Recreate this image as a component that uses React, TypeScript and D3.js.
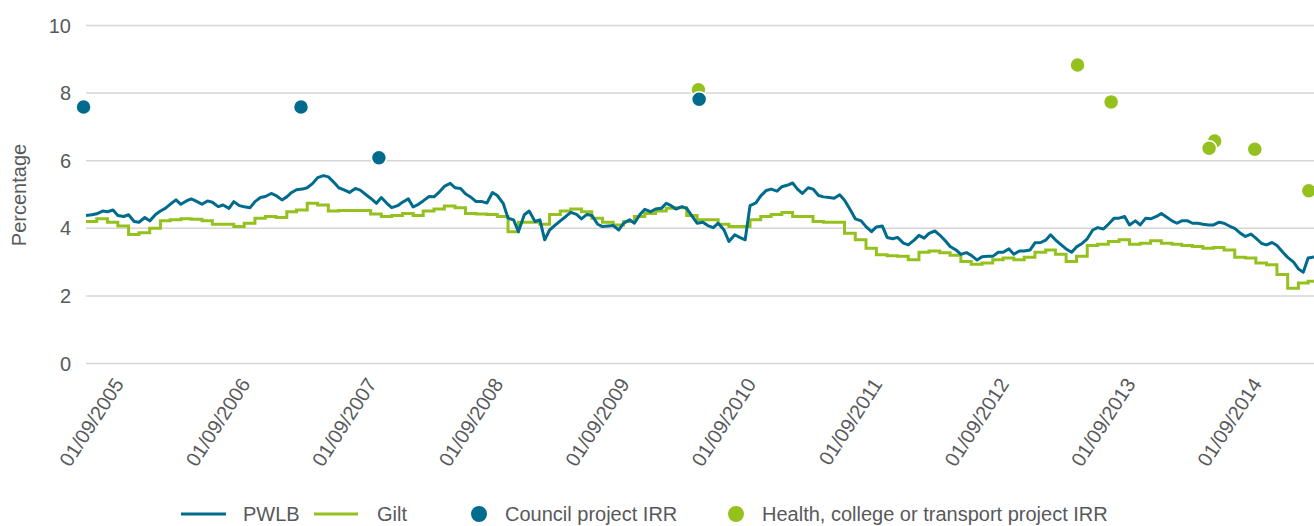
import React from 'react';
import * as d3 from 'd3';

// PWLB, semi-monthly readings (1st and 15th of each month), starting 15 Jul 2005
const pwlb2005 = [4.38, 4.40, 4.43, 4.51, 4.49, 4.54, 4.38, 4.35, 4.40, 4.20, 4.18];
const pwlb2006 = [4.32, 4.22, 4.41, 4.51, 4.59, 4.71, 4.84, 4.71, 4.81, 4.87, 4.79, 4.71, 4.81, 4.77, 4.64, 4.69, 4.59, 4.79, 4.67, 4.64, 4.61, 4.79, 4.91, 4.94];
const pwlb2007 = [5.03, 4.97, 4.84, 4.93, 5.06, 5.14, 5.16, 5.20, 5.33, 5.50, 5.56, 5.52, 5.36, 5.20, 5.13, 5.06, 5.18, 5.13, 5.00, 4.89, 4.74, 4.91, 4.74, 4.61];
const pwlb2008 = [4.67, 4.77, 4.87, 4.63, 4.71, 4.81, 4.94, 4.93, 5.08, 5.24, 5.33, 5.20, 5.18, 5.02, 4.91, 4.79, 4.79, 4.75, 5.06, 4.97, 4.74, 4.30, 4.25, 3.90];
const pwlb2009 = [4.40, 4.51, 4.20, 4.25, 3.66, 3.95, 4.10, 4.22, 4.35, 4.47, 4.41, 4.28, 4.41, 4.38, 4.12, 4.05, 4.07, 4.08, 3.95, 4.15, 4.25, 4.15, 4.41, 4.56];
const pwlb2010 = [4.49, 4.57, 4.59, 4.74, 4.67, 4.57, 4.64, 4.59, 4.35, 4.15, 4.18, 4.08, 4.02, 4.15, 3.95, 3.61, 3.81, 3.73, 3.66, 4.67, 4.75, 4.96, 5.12, 5.16];
const pwlb2011 = [5.10, 5.23, 5.28, 5.34, 5.16, 5.03, 5.20, 5.16, 4.97, 4.93, 4.91, 4.89, 4.99, 4.83, 4.54, 4.28, 4.22, 4.05, 3.90, 4.04, 4.07, 3.73, 3.69, 3.73];
const pwlb2012 = [3.56, 3.51, 3.65, 3.79, 3.71, 3.85, 3.92, 3.80, 3.63, 3.46, 3.36, 3.23, 3.28, 3.20, 3.06, 3.16, 3.17, 3.17, 3.29, 3.29, 3.39, 3.23, 3.33, 3.33];
const pwlb2013 = [3.36, 3.57, 3.58, 3.65, 3.81, 3.66, 3.51, 3.39, 3.29, 3.45, 3.56, 3.69, 3.95, 4.02, 3.98, 4.12, 4.30, 4.30, 4.35, 4.10, 4.22, 4.10, 4.30, 4.28];
const pwlb2014 = [4.35, 4.44, 4.32, 4.22, 4.15, 4.22, 4.22, 4.15, 4.15, 4.12, 4.10, 4.10, 4.18, 4.15, 4.06, 4.00, 3.85, 3.76, 3.83, 3.71, 3.55, 3.51, 3.58, 3.49];
const pwlb2015 = [3.29, 3.14, 3.00, 2.80, 2.70, 3.12, 3.15];

// Gilt, monthly readings (15th of each month), starting Jul 2005
const gilt2005 = [4.20, 4.28, 4.18, 4.07, 3.82, 3.87];
const gilt2006 = [4.00, 4.22, 4.25, 4.28, 4.27, 4.22, 4.12, 4.12, 4.05, 4.15, 4.30, 4.35];
const gilt2007 = [4.32, 4.49, 4.54, 4.74, 4.69, 4.51, 4.53, 4.53, 4.53, 4.42, 4.35, 4.38];
const gilt2008 = [4.44, 4.38, 4.51, 4.57, 4.66, 4.61, 4.44, 4.42, 4.41, 4.35, 3.90, 4.18];
const gilt2009 = [4.18, 4.12, 4.41, 4.51, 4.57, 4.49, 4.30, 4.18, 4.10, 4.20, 4.35, 4.44];
const gilt2010 = [4.51, 4.59, 4.61, 4.38, 4.25, 4.25, 4.12, 4.05, 4.05, 4.25, 4.35, 4.41];
const gilt2011 = [4.47, 4.35, 4.35, 4.20, 4.18, 4.18, 3.85, 3.66, 3.41, 3.22, 3.19, 3.17];
const gilt2012 = [3.07, 3.29, 3.33, 3.28, 3.20, 3.02, 2.94, 2.97, 3.07, 3.12, 3.07, 3.14];
const gilt2013 = [3.29, 3.36, 3.23, 3.02, 3.17, 3.49, 3.53, 3.61, 3.66, 3.53, 3.56, 3.63];
const gilt2014 = [3.56, 3.53, 3.49, 3.46, 3.41, 3.43, 3.36, 3.14, 3.12, 2.97, 2.92, 2.63];
const gilt2015 = [2.23, 2.38, 2.43];

// Project IRRs
const healthDates = ['2010-05-19', '2013-05-18', '2013-08-23', '2014-06-18', '2014-06-02', '2014-10-12', '2015-03-17'];
const healthValues = [8.10, 8.83, 7.74, 6.58, 6.37, 6.34, 5.11];
const councilDates = ['2005-07-08', '2007-03-28', '2007-11-08', '2010-05-21'];
const councilValues = [7.59, 7.59, 6.09, 7.82];

const yTicks = [0, 2, 4, 6, 8, 10];
const xTickDates = ['2005-09-01', '2006-09-01', '2007-09-01', '2008-09-01', '2009-09-01', '2010-09-01', '2011-09-01', '2012-09-01', '2013-09-01', '2014-09-01'];
const seriesNames = ['PWLB', 'Gilt', 'Council project IRR', 'Health, college or transport project IRR'];

const BLUE = '#006b8c';
const GREEN = '#95c11f';
const TEXT = '#58595b';
const GRID = '#d6d6d6';
const FONT = '"Liberation Sans", Arial, sans-serif';

type Pt = { date: Date; value: number };

export default function App() {
  const W = 1314;
  const H = 526;
  const parse = d3.timeParse('%Y-%m-%d');
  const fmt = d3.timeFormat('%d/%m/%Y');

  const x = d3.scaleTime().domain([new Date(2005, 6, 15), new Date(2015, 3, 1)]).range([86, 1314]);
  const y = d3.scaleLinear().domain([0, 10]).range([363.5, 25.5]);

  const pwlbValues = [...pwlb2005, ...pwlb2006, ...pwlb2007, ...pwlb2008, ...pwlb2009, ...pwlb2010, ...pwlb2011, ...pwlb2012, ...pwlb2013, ...pwlb2014, ...pwlb2015];
  const pwlb: Pt[] = pwlbValues.map((v, i) => ({
    date: new Date(2005, 6 + Math.floor((i + 1) / 2), i % 2 === 0 ? 15 : 1),
    value: v,
  }));
  const giltValues = [...gilt2005, ...gilt2006, ...gilt2007, ...gilt2008, ...gilt2009, ...gilt2010, ...gilt2011, ...gilt2012, ...gilt2013, ...gilt2014, ...gilt2015];
  const gilt: Pt[] = giltValues.map((v, m) => ({ date: new Date(2005, 6 + m, 15), value: v }));
  gilt.push({ date: x.domain()[1], value: giltValues[giltValues.length - 1] });

  const health: Pt[] = healthDates.map((d, i) => ({ date: parse(d) as Date, value: healthValues[i] }));
  const council: Pt[] = councilDates.map((d, i) => ({ date: parse(d) as Date, value: councilValues[i] }));

  const line = d3.line<Pt>().x((d) => x(d.date)).y((d) => y(d.value));
  const step = d3.line<Pt>().curve(d3.curveStepAfter).x((d) => x(d.date)).y((d) => y(d.value));

  const [x0, x1] = x.range();
  const legendY = 514;

  return (
    <svg width={W} height={H} style={{ position: 'absolute', left: 0, top: 0, background: '#fff' }} fontFamily={FONT}>
      {yTicks.map((t) => (
        <g key={t}>
          <line x1={x0} x2={x1} y1={y(t)} y2={y(t)} stroke={GRID} strokeWidth={1.5} />
          <text x={71} y={y(t)} dy="0.35em" textAnchor="end" fontSize={20} fill={TEXT}>{t}</text>
        </g>
      ))}
      <text transform={`translate(26,195) rotate(-90)`} textAnchor="middle" fontSize={20} fill={TEXT}>Percentage</text>

      {xTickDates.map((d) => {
        const dt = parse(d) as Date;
        return (
          <text key={d} transform={`translate(${x(dt) + 22},384) rotate(-57)`} textAnchor="end" fontSize={20} fill={TEXT}>
            {fmt(dt)}
          </text>
        );
      })}

      <path d={step(gilt) || ''} fill="none" stroke={GREEN} strokeWidth={3} />
      <path d={line(pwlb) || ''} fill="none" stroke={BLUE} strokeWidth={3} strokeLinejoin="round" />

      {health.map((p, i) => (
        <circle key={'h' + i} cx={x(p.date)} cy={y(p.value)} r={7.5} fill={GREEN} stroke="#fff" strokeWidth={1.5} />
      ))}
      {council.map((p, i) => (
        <circle key={'c' + i} cx={x(p.date)} cy={y(p.value)} r={7.5} fill={BLUE} stroke="#fff" strokeWidth={1.5} />
      ))}

      <g fontSize={20} fill={TEXT}>
        <line x1={181} x2={226} y1={legendY} y2={legendY} stroke={BLUE} strokeWidth={3} />
        <text x={243} y={legendY} dy="0.35em">{seriesNames[0]}</text>
        <line x1={314} x2={358} y1={legendY} y2={legendY} stroke={GREEN} strokeWidth={3} />
        <text x={377} y={legendY} dy="0.35em">{seriesNames[1]}</text>
        <circle cx={479} cy={legendY} r={8} fill={BLUE} />
        <text x={505} y={legendY} dy="0.35em">{seriesNames[2]}</text>
        <circle cx={736} cy={legendY} r={8} fill={GREEN} />
        <text x={762} y={legendY} dy="0.35em">{seriesNames[3]}</text>
      </g>
    </svg>
  );
}
